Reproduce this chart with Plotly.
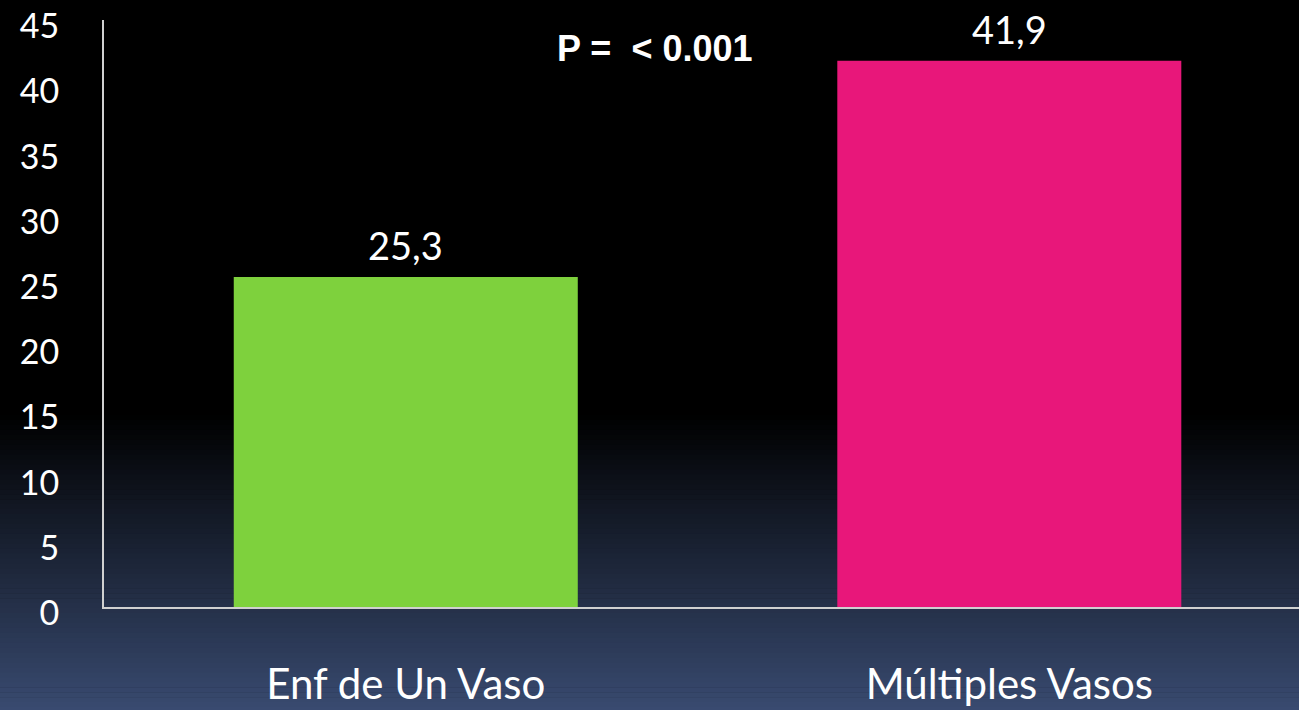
import plotly.graph_objects as go

categories = ["Enf de Un Vaso", "Múltiples Vasos"]
values = [25.3, 41.9]
value_labels = ["25,3", "41,9"]
bar_colors = ["#7ED13D", "#E8177A"]
y_ticks = [0, 5, 10, 15, 20, 25, 30, 35, 40, 45]
p_text = "P =  < 0.001"

W, H = 1299, 710
ML, MR, MT, MB = 104, 0, 20, 103
plot_h = H - MT - MB

fig = go.Figure()
fig.add_trace(go.Bar(
    x=categories, y=values, marker=dict(color=bar_colors, line=dict(width=0)),
    width=0.57, hoverinfo="skip", cliponaxis=False,
))

for c, v, t in zip(categories, values, value_labels):
    fig.add_annotation(x=c, y=v, text=t, showarrow=False, yanchor="bottom",
                       yshift=7, font=dict(family="Lato", size=38, color="white"))

fig.add_annotation(xref="paper", yref="paper", x=(655 - ML) / (W - ML - MR),
                   y=(H - MB - 48) / plot_h, text=p_text, showarrow=False,
                   xanchor="center", yanchor="middle",
                   font=dict(family="Liberation Sans", size=36, color="white", weight="bold"))

# background gradient (black top -> dark slate blue bottom)
shapes = []
g_top, g_bot = 415, 712
n = 60
c0 = (0, 0, 0)
c1 = (57, 75, 113)
for i in range(n):
    y0p = g_top + (g_bot - g_top) * i / n
    y1p = g_top + (g_bot - g_top) * (i + 1) / n + 0.6
    f = (i + 0.5) / n
    col = "rgb(%d,%d,%d)" % tuple(round(a + (b - a) * f) for a, b in zip(c0, c1))
    shapes.append(dict(type="rect", xref="paper", yref="paper",
                       x0=-ML / (W - ML - MR) - 0.01, x1=1.01,
                       y0=(H - MB - y1p) / plot_h, y1=(H - MB - y0p) / plot_h,
                       fillcolor=col, line=dict(width=0), layer="below"))

fig.update_layout(
    width=W, height=H, autosize=False, margin=dict(l=ML, r=MR, t=MT, b=MB, pad=0),
    paper_bgcolor="black", plot_bgcolor="rgba(0,0,0,0)",
    shapes=shapes, showlegend=False, bargap=0.43,
    xaxis=dict(range=[-0.5, 1.48], showgrid=False, zeroline=False,
               showline=True, linecolor="#d0d0d0", linewidth=2, ticks="",
               tickfont=dict(family="Lato", size=42, color="white"),
               ticklabelstandoff=40, fixedrange=True, automargin=False),
    yaxis=dict(range=[0, 45.02], tickvals=y_ticks, showgrid=False, zeroline=False,
               showline=True, linecolor="#d0d0d0", linewidth=2, ticks="",
               tickfont=dict(family="Lato", size=34, color="white"),
               ticklabelstandoff=36, ticklabelshift=6, ticklabeloverflow="allow",
               fixedrange=True, automargin=False),
)

fig.write_html(
    "out.html",
    config={"displayModeBar": False, "responsive": False, "staticPlot": True},
    post_script="document.documentElement.style.margin='0';document.body.style.margin='0';"
                "document.body.style.overflow='hidden';document.body.style.background='black';",
)
